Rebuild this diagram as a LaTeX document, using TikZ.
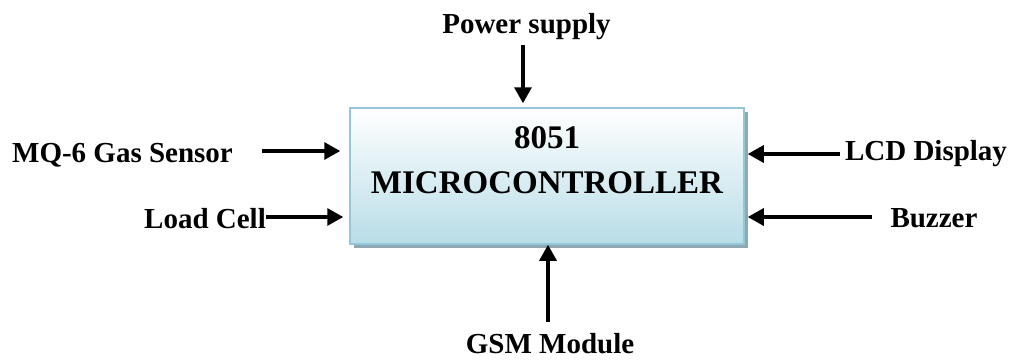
\documentclass[tikz,border=0pt]{standalone}
\usepackage{fontspec}
\setmainfont{Liberation Serif}
\usetikzlibrary{arrows.meta,shadows}
\definecolor{boxedge}{HTML}{93C8DA}
\definecolor{boxbot}{HTML}{B8DDE7}
\definecolor{shadowc}{HTML}{8EA9B3}
\tikzset{
  lbl/.style={font=\fontsize{29}{34}\selectfont\bfseries, inner sep=0pt, anchor=center},
  arr/.style={line width=3.2pt, -{Triangle[length=16pt,width=17pt]}},
  mcbox/.style={draw=boxedge, line width=1.5pt, top color=white, bottom color=boxbot,
    minimum width=394pt, minimum height=136pt, inner sep=0pt,
    drop shadow={shadow xshift=3.5pt, shadow yshift=-3.5pt, fill=shadowc, opacity=1}},
}
\begin{document}
\begin{tikzpicture}[x=1pt,y=-1pt]
\useasboundingbox (0,0) rectangle (1021,362);
\node[mcbox] (mc) at (547,176) {};
\node[font=\fontsize{33}{45}\selectfont\bfseries, align=center, inner sep=0pt] (title) at (547,160) {8051\\MICROCONTROLLER};
% labels
\node[lbl] (mq) at (122.5,155) {MQ-6 Gas Sensor};
\node[lbl] (lc) at (205,219) {Load Cell};
\node[lbl] (lcd) at (926,154) {LCD Display};
\node[lbl] (bz) at (934,218) {Buzzer};
\node[lbl] (ps) at (526.5,27) {Power supply};
\node[lbl] (gsm) at (550,344) {GSM Module};
% connector free ends
\coordinate (mqs) at (262,151);
\coordinate (lcs) at (lc.east |- 0,217);
\coordinate (lcds) at (840,154);
\coordinate (bzs) at (872,217);
\coordinate (pss) at (523,45);
\coordinate (gsms) at (548,322);
\draw[arr] (mqs) -- ([xshift=-9pt]mqs -| mc.west);
\draw[arr] (lcs) -- ([xshift=-6pt]lcs -| mc.west);
\draw[arr] (lcds) -- ([xshift=3pt]lcds -| mc.east);
\draw[arr] (bzs) -- ([xshift=3pt]bzs -| mc.east);
\draw[arr] (pss) -- ([yshift=4pt]pss |- mc.north);
\draw[arr] (gsms) -- (gsms |- mc.south);
\end{tikzpicture}
\end{document}
